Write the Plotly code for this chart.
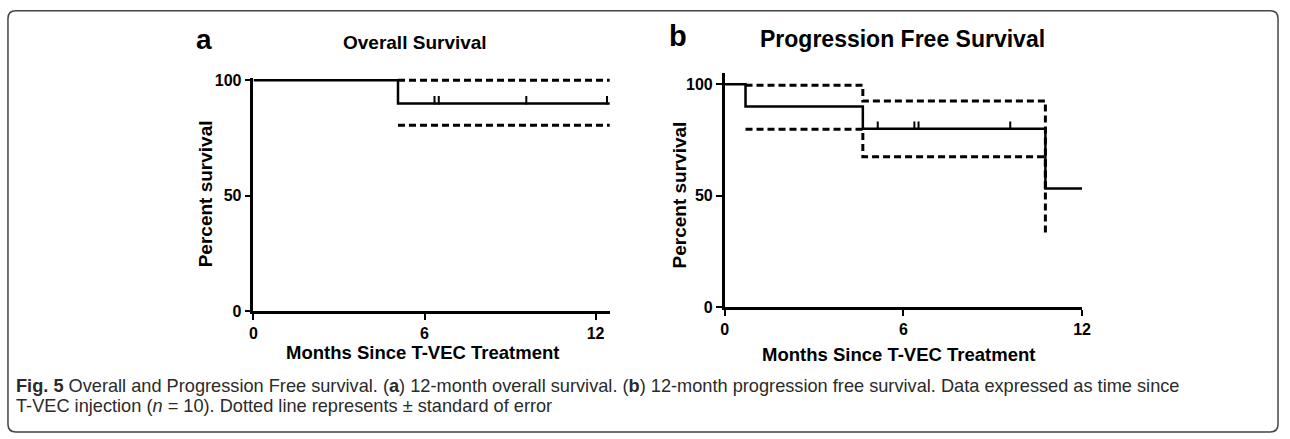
import plotly.graph_objects as go

W, H = 1290, 439

# ---------------- data ----------------
os_times = [0, 5.07, 12.5]
os_surv = [100, 90, 90]
os_ci_times = [5.07, 12.5]
os_upper = [100, 100]
os_lower = [80.6, 80.6]
os_censor_times = [6.35, 6.5, 9.57, 12.4]
os_censor_surv = [90, 90, 90, 90]

pfs_times = [0, 0.7, 4.64, 10.77, 12]
pfs_surv = [100, 90, 80, 53.3, 53.3]
pfs_ci_times = [0.7, 4.64, 10.77]
pfs_upper = [99.5, 92.5, 53.3]
pfs_lower = [79.8, 67.5, 32.5]
pfs_censor_times = [5.14, 6.37, 6.51, 9.59]
pfs_censor_surv = [80, 80, 80, 80]

x_ticks = [0, 6, 12]
y_ticks = [0, 50, 100]

panel_titles = ["Overall Survival", "Progression Free Survival"]
panel_letters = ["a", "b"]
x_title = "Months Since T-VEC Treatment"
y_title = "Percent survival"
caption_1 = ("<b>Fig. 5</b> Overall and Progression Free survival. (<b>a</b>) 12-month overall survival. "
             "(<b>b</b>) 12-month progression free survival. Data expressed as time since")
caption_2 = "T-VEC injection (<i>n</i> = 10). Dotted line represents ± standard of error"

# ---------------- style ----------------
FONT = "Arial, Liberation Sans, sans-serif"
DASH = "7px,4px"
TICK_LIFT = 1.4


def px(x):
    return x / W


def py(y):
    return 1 - y / H


fig = go.Figure()


def add_km(times, surv, ci_t, up, lo, ct, cs, xa, ya):
    fig.add_trace(go.Scatter(x=times, y=surv, mode="lines", line=dict(color="black", width=2.5, shape="hv"),
                             xaxis=xa, yaxis=ya, showlegend=False, hoverinfo="skip"))
    for band in (up, lo):
        fig.add_trace(go.Scatter(x=ci_t, y=band, mode="lines",
                                 line=dict(color="black", width=3, shape="hv", dash=DASH),
                                 xaxis=xa, yaxis=ya, showlegend=False, hoverinfo="skip"))
    fig.add_trace(go.Scatter(x=ct, y=[v + TICK_LIFT for v in cs], mode="markers",
                             marker=dict(symbol="line-ns", size=6, line=dict(color="black", width=2)),
                             xaxis=xa, yaxis=ya, showlegend=False, hoverinfo="skip"))


add_km(os_times, os_surv, os_ci_times, os_upper, os_lower, os_censor_times, os_censor_surv, "x", "y")
add_km(pfs_times, pfs_surv, pfs_ci_times, pfs_upper, pfs_lower, pfs_censor_times, pfs_censor_surv, "x2", "y2")

axis_common = dict(showline=True, linecolor="black", linewidth=2.5, ticks="outside", ticklen=6,
                   tickwidth=2, tickcolor="black", showgrid=False, zeroline=False,
                   tickfont=dict(family=FONT, size=16, color="black", weight="bold"))

fig.update_layout(
    width=W, height=H,
    margin=dict(l=0, r=0, t=0, b=0),
    paper_bgcolor="white", plot_bgcolor="white",
    xaxis=dict(domain=[px(252), px(612)], range=[0, 12.5], tickvals=x_ticks, anchor="y", **axis_common),
    yaxis=dict(domain=[py(316), py(316 - 239 * 1.01)], range=[0, 101], tickvals=y_ticks, anchor="x",
               **axis_common),
    xaxis2=dict(domain=[px(728), px(1089)], range=[0, 12], tickvals=x_ticks, anchor="y2", **axis_common),
    yaxis2=dict(domain=[py(312), py(312 - 231 * 1.05)], range=[0, 105], tickvals=y_ticks, anchor="x2",
                **axis_common),
)

ann = []


def text(t, x, y, size, bold=True, angle=0, xanchor="center", color="black", family=FONT):
    ann.append(dict(text=t, x=px(x), y=py(y), xref="paper", yref="paper", showarrow=False,
                    xanchor=xanchor, yanchor="middle", textangle=angle,
                    font=dict(family=family, size=size, color=color, weight="bold" if bold else "normal")))


text(panel_letters[0], 202, 35, 28)
text(panel_titles[0], 415, 38, 19)
text(panel_letters[1], 681, 31, 29)
text(panel_titles[1], 908, 34, 23)
text(y_title, 203, 194, 19, angle=-90)
text(y_title, 682, 196, 19, angle=-90)
text(x_title, 423, 359, 18.5)
text(x_title, 904, 361, 18.5)
text(caption_1, 10, 393, 18.2, bold=False, xanchor="left", color="#2a2a2a")
text(caption_2, 10, 414, 18.2, bold=False, xanchor="left", color="#2a2a2a")
fig.update_layout(annotations=ann)

# rounded frame
r_x, r_y = px(8), 8 / H
x0, x1 = px(4), px(1287)
y_top, y_bot = py(5), py(441)
path = (f"M {x0 + r_x},{y_top} L {x1 - r_x},{y_top} Q {x1},{y_top} {x1},{y_top - r_y} "
        f"L {x1},{y_bot + r_y} Q {x1},{y_bot} {x1 - r_x},{y_bot} L {x0 + r_x},{y_bot} "
        f"Q {x0},{y_bot} {x0},{y_bot + r_y} L {x0},{y_top - r_y} Q {x0},{y_top} {x0 + r_x},{y_top} Z")
fig.add_shape(type="path", path=path, xref="paper", yref="paper", line=dict(color="#444444", width=1.5))

fig.write_html("out.html")
